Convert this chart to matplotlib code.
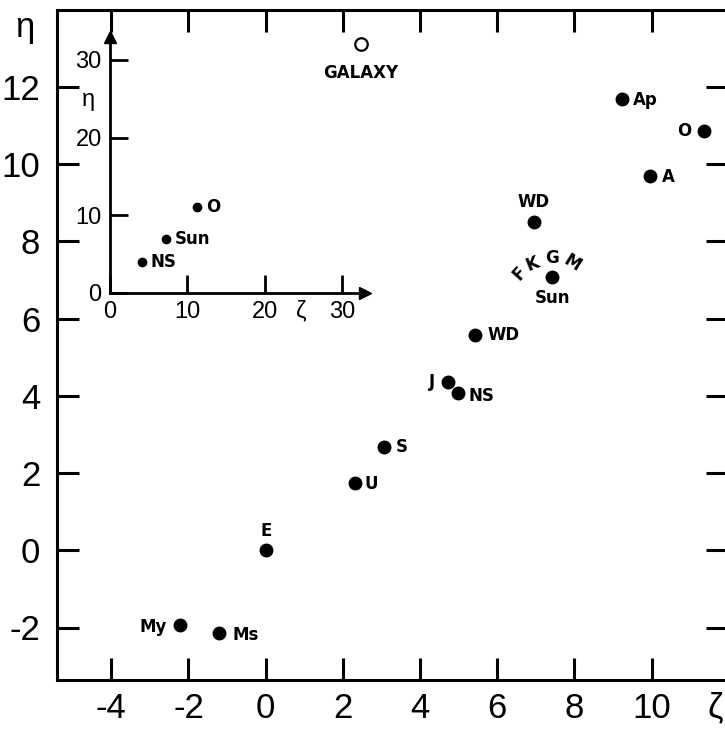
import matplotlib
matplotlib.use("Agg")
import matplotlib.pyplot as plt

plt.rcParams['font.family'] = ['Liberation Sans Narrow', 'Liberation Sans', 'DejaVu Sans']

# main diagram: zeta / eta of the objects
main_names = ["E", "My", "Ms", "U", "S", "J", "NS", "WD", "WD", "Sun", "Ap", "A", "O"]
main_zeta = [0.0, -2.22, -1.21, 2.31, 3.06, 4.73, 4.99, 5.42, 6.95, 7.43, 9.22, 9.96, 11.35]
main_eta = [0.0, -1.94, -2.13, 1.75, 2.68, 4.35, 4.07, 5.58, 8.50, 7.09, 11.69, 9.70, 10.87]

# spectral classes around the sun
sun_classes = ["F", "K", "G", "M"]

# inset diagram
inset_names = ["NS", "Sun", "O"]
inset_zeta = [4.1, 7.2, 11.3]
inset_eta = [4.0, 6.9, 11.0]
galaxy_zeta = [32.4]
galaxy_eta = [32.1]

main_xticks = [-4, -2, 0, 2, 4, 6, 8, 10]
main_yticks = [-2, 0, 2, 4, 6, 8, 10, 12]
inset_ticks = [0, 10, 20, 30]

# label placement (offset in points, alignment)
main_offsets = {
    0: (0, 13.7, "center"), 1: (-9.4, -1.4, "right"), 2: (9.4, -1.7, "left"),
    3: (7.2, -1, "left"), 4: (8.6, 0, "left"), 5: (-9.4, 0.4, "right"),
    6: (7.2, -1.7, "left"), 7: (9.4, 0, "left"), 8: (0, 14.8, "center"),
    9: (0, -15.3, "center"), 10: (8, -0.7, "left"), 11: (8.4, -0.7, "left"),
    12: (-8.9, 0, "right"),
}
class_offsets = [(-24, 2.5, 48), (-14, 9.2, 22), (-0.7, 13.2, 0), (14, 9.6, -32)]
label_font = dict(fontsize=12, fontweight="bold", family="DejaVu Sans")

W, H = 725, 739
fig = plt.figure(figsize=(W / 100, H / 100), dpi=100)

# main axes: spine positions in pixels
left_px, right_px, top_px, bottom_px = 57, 728, 10, 680
ax = fig.add_axes([left_px / W, 1 - bottom_px / H, (right_px - left_px) / W, (bottom_px - top_px) / H])
x0_px, sx = 265.7, 38.6
y0_px, sy = 550.3, 38.6
ax.set_xlim((left_px - x0_px) / sx, (right_px - x0_px) / sx)
ax.set_ylim((y0_px - bottom_px) / sy, (y0_px - top_px) / sy)

for s in ["left", "bottom", "top"]:
    ax.spines[s].set_linewidth(2.2)
ax.spines["right"].set_visible(False)
ax.set_xticks(main_xticks)
ax.set_xticklabels([str(v) for v in main_xticks])
ax.set_yticks(main_yticks)
ax.set_yticklabels([str(v) for v in main_yticks])
ax.tick_params(direction="in", length=16, width=2.2, labelsize=25,
               top=True, right=True, pad=9)
ax.tick_params(axis="y", pad=12)

ax.plot(main_zeta, main_eta, "o", color="black", markersize=9, clip_on=False)
for i, name in enumerate(main_names):
    dx, dy, ha = main_offsets[i]
    ax.annotate(name, (main_zeta[i], main_eta[i]), xytext=(dx, dy), textcoords="offset points",
                ha=ha, va="center", **label_font)
for c, (dx, dy, rot) in zip(sun_classes, class_offsets):
    ax.annotate(c, (main_zeta[9], main_eta[9]), xytext=(dx, dy), textcoords="offset points",
                ha="center", va="center", rotation=rot, **label_font)

fig.text(25 / W, 1 - 27 / H, "η", fontsize=25, ha="center", va="center")
fig.text(715 / W, 1 - 708 / H, "ζ", fontsize=25, ha="center", va="center")

# inset axes
ix0, iy0, isx, isy = 110, 292.7, 7.74, 7.76
ilim = 33
iax = fig.add_axes([ix0 / W, 1 - iy0 / H, ilim * isx / W, ilim * isy / H])
iax.patch.set_alpha(0)
iax.set_xlim(0, ilim)
iax.set_ylim(0, ilim)
iax.spines["top"].set_visible(False)
iax.spines["right"].set_visible(False)
for s in ["left", "bottom"]:
    iax.spines[s].set_linewidth(2.0)
iax.set_xticks(inset_ticks)
iax.set_yticks(inset_ticks)
iax.tick_params(direction="in", length=13, width=2.0, labelsize=17, pad=6)
iax.plot(1, 0, ">", color="black", markersize=9, transform=iax.transAxes, clip_on=False)
iax.plot(0, 1, "^", color="black", markersize=9, transform=iax.transAxes, clip_on=False)

iax.plot(inset_zeta, inset_eta, "o", color="black", markersize=6, clip_on=False)
for name, z, e in zip(inset_names, inset_zeta, inset_eta):
    iax.annotate(name, (z, e), xytext=(6.5, 0), textcoords="offset points", ha="left",
                 va="center", **label_font)
iax.plot(galaxy_zeta, galaxy_eta, "o", markerfacecolor="white", markeredgecolor="black",
         markeredgewidth=1.6, markersize=9, clip_on=False)
iax.annotate("GALAXY", (galaxy_zeta[0], galaxy_eta[0]), xytext=(0, -21), textcoords="offset points",
             ha="center", va="center", **label_font)

fig.text(88 / W, 1 - 100 / H, "η", fontsize=17, ha="center", va="center")
fig.text(301.7 / W, 1 - 311.7 / H, "ζ", fontsize=17, ha="center", va="center")

fig.savefig("out.png", dpi=100)
